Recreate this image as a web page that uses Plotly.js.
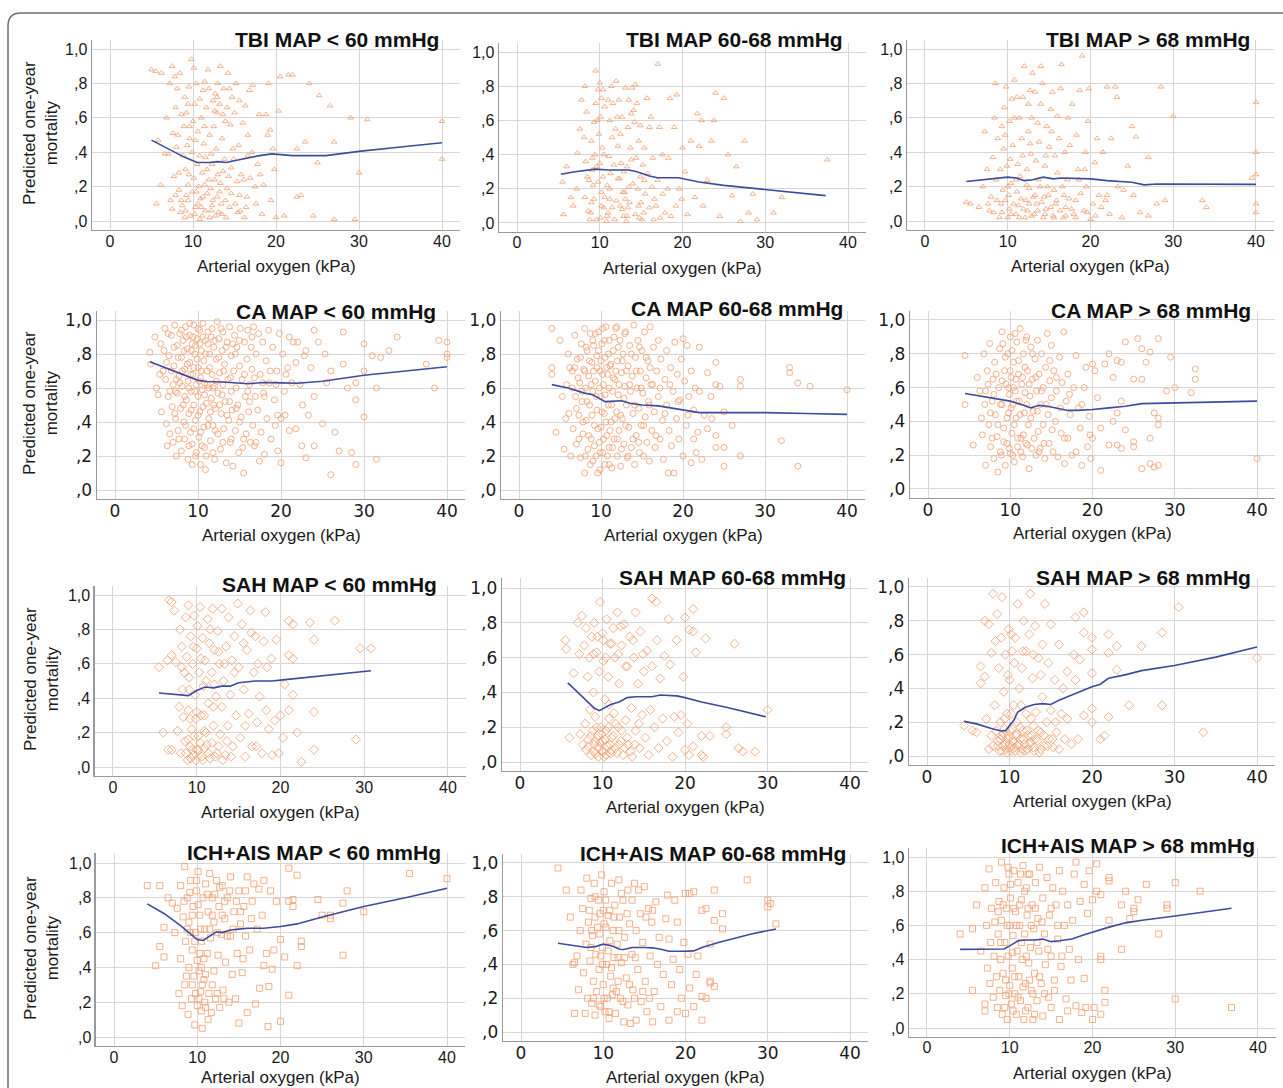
<!DOCTYPE html>
<html>
<head>
<meta charset="utf-8">
<script src="https://cdn.plot.ly/plotly-3.0.1.min.js"></script>
<style>html,body{margin:0;padding:0;background:#fff;}#chart{width:1283px;height:1088px;}</style>
</head>
<body>
<div id="chart"></div>
<script>
// ---------- DATA ----------
const xTickVals = [0, 10, 20, 30, 40];
const xTickText = ["0", "10", "20", "30", "40"];
const yTickVals = [0, 0.2, 0.4, 0.6, 0.8, 1.0];
const yTickText = [",0", ",2", ",4", ",6", ",8", "1,0"];
const panelTitles = [
  "TBI MAP &lt; 60 mmHg", "TBI MAP 60-68 mmHg", "TBI MAP &gt; 68 mmHg",
  "CA MAP &lt; 60 mmHg", "CA MAP 60-68 mmHg", "CA MAP &gt; 68 mmHg",
  "SAH MAP &lt; 60 mmHg", "SAH MAP 60-68 mmHg", "SAH MAP &gt; 68 mmHg",
  "ICH+AIS MAP &lt; 60 mmHg", "ICH+AIS MAP 60-68 mmHg", "ICH+AIS MAP &gt; 68 mmHg"
];
const xAxisTitle = "Arterial oxygen (kPa)";
const yAxisTitle = "Predicted one-year<br>mortality";

// Scatter points [oxygen kPa, predicted mortality]
const tbiLowPts = [[5,0.88],[5.5,0.87],[6.2,0.86],[5.8,0.47],[5.6,0.1],[6.1,0.21],[6.6,0.39],[7,0.39],[6.8,0.6],[7.2,0.8],[7.5,0.9],[7.8,0.84],[8.1,0.77],[8.4,0.86],[7.9,0.66],[8.2,0.5],[7.6,0.51],[8,0.43],[7.7,0.26],[8.3,0.18],[8.6,0.12],[7.5,0.07],[8.5,0.05],[9,0.02],[9.2,0.15],[9.4,0.21],[9.1,0.3],[8.8,0.38],[9.3,0.44],[9.6,0.55],[9.2,0.63],[9,0.72],[9.5,0.78],[9.8,0.94],[10.1,0.89],[10.4,0.8],[10.2,0.68],[10,0.58],[10.3,0.47],[9.9,0.4],[10.5,0.33],[10.1,0.25],[10.4,0.17],[10.6,0.1],[10.2,0.04],[10.8,0.01],[11,0.08],[11.2,0.14],[11.4,0.21],[11.1,0.28],[11.5,0.37],[11.3,0.45],[11,0.6],[11.6,0.66],[11.2,0.76],[11.4,0.81],[11.8,0.88],[12,0.02],[12.2,0.06],[12.4,0.12],[12.1,0.19],[12.6,0.24],[12.3,0.33],[12.8,0.42],[12.5,0.55],[12.9,0.63],[12.4,0.7],[12.7,0.74],[13,0.8],[13.3,0.9],[13.1,0.05],[13.4,0.1],[13.2,0.17],[13.6,0.29],[13.8,0.36],[13.5,0.48],[13.9,0.58],[13.7,0.77],[14.2,0.86],[14,0.02],[14.4,0.08],[14.6,0.16],[14.3,0.26],[14.8,0.42],[14.5,0.56],[15,0.63],[14.7,0.72],[15.2,0.8],[15.4,0.05],[15.6,0.15],[15.3,0.23],[15.8,0.27],[15.5,0.44],[16,0.57],[16.2,0.02],[16.4,0.08],[16.1,0.24],[16.6,0.38],[16.3,0.67],[16.8,0.76],[17.2,0.79],[17.5,0.2],[17.8,0.33],[18,0.62],[18.3,0.04],[18.5,0.21],[18.8,0.62],[19,0.5],[19.3,0.53],[19.1,0.8],[19.6,0.42],[20,0.02],[20.3,0.64],[20.5,0.84],[21,0.03],[21.5,0.85],[22,0.85],[22.5,0.14],[22.5,0.42],[23,0.15],[23.5,0.46],[24,0.8],[24.5,0.03],[25,0.34],[25.2,0.73],[26.5,0.67],[27,0.46],[27,0.01],[29.5,0.01],[29,0.6],[30,0.28],[31,0.59],[40,0.58],[40,0.36]];
const tbiLowCore = [[8.7,0.09],[9.1,0.06],[9.4,0.12],[9.7,0.03],[9.9,0.17],[10.3,0.08],[10.7,0.2],[10.9,0.13],[11.1,0.03],[11.5,0.06],[11.7,0.16],[11.9,0.24],[12.3,0.09],[12.7,0.03],[12.9,0.14],[13.3,0.22],[13.5,0.04],[13.9,0.12],[14.1,0.19],[14.6,0.31],[15.1,0.1],[15.7,0.06],[16.5,0.14],[9.5,0.27],[10.8,0.38],[11.7,0.3],[12.2,0.39],[13,0.27],[14.9,0.36],[16.9,0.25],[9.6,0.48],[10.6,0.52],[11.4,0.55],[12,0.5],[12.6,0.64],[13.2,0.68],[13.6,0.62],[14.1,0.66],[14.4,0.77],[11.9,0.77],[10.8,0.71],[9.4,0.68],[8.6,0.62],[8.9,0.55],[12.9,0.72],[15.6,0.7],[16.6,0.5],[17.6,0.1],[18.1,0.27],[19.4,0.12],[8.3,0.28],[7.9,0.15],[7.3,0.12],[17.1,0.4],[19.8,0.3]];
const tbiMidPts = [[5.5,0.24],[5.6,0.05],[6,0.33],[6.5,0.15],[6.8,0.1],[7.2,0.2],[7.3,0.41],[7.6,0.55],[7.8,0.72],[8.2,0.8],[8.4,0.65],[8.1,0.5],[8.3,0.36],[8.5,0.27],[8.2,0.15],[8.6,0.07],[8.8,0.02],[9,0.12],[9.2,0.22],[9.1,0.31],[9.4,0.4],[9,0.48],[9.3,0.59],[9.5,0.7],[9.5,0.89],[9.8,0.78],[10,0.82],[10.2,0.73],[10.1,0.62],[9.9,0.52],[10.3,0.44],[10,0.35],[10.4,0.27],[10.2,0.18],[10.5,0.09],[10.1,0.03],[10.8,0.01],[11,0.06],[11.2,0.14],[10.9,0.22],[11.3,0.29],[11.1,0.39],[11.5,0.5],[11.2,0.6],[11.6,0.7],[11.4,0.8],[12,0.83],[12.3,0.72],[12.1,0.62],[12.5,0.52],[12.2,0.45],[12.6,0.35],[12.4,0.26],[12.8,0.18],[12.5,0.1],[12.9,0.04],[13.2,0.01],[13.4,0.09],[13.1,0.14],[13.5,0.21],[13.3,0.33],[13.7,0.44],[13.4,0.56],[13.8,0.64],[13.5,0.72],[13.9,0.79],[14.3,0.81],[14.5,0.7],[14.2,0.59],[14.7,0.48],[14.4,0.38],[14.9,0.27],[14.6,0.2],[15,0.12],[14.8,0.03],[15.3,0.06],[15.5,0.17],[15.8,0.29],[15.4,0.44],[16,0.56],[15.7,0.73],[16.2,0.62],[16.5,0.02],[16.8,0.1],[16.3,0.21],[17,0.25],[17.2,0.56],[17,0.93],[17.6,0.4],[17.9,0.06],[18.2,0.2],[18.5,0.73],[18.3,0.38],[19,0.56],[19.3,0.75],[19.6,0.2],[19.2,0.1],[20,0.44],[20.3,0.3],[20.6,0.05],[21,0.48],[21.5,0.15],[21.8,0.64],[22,0.45],[22.3,0.6],[22.5,0.1],[23,0.25],[23.5,0.48],[23.8,0.6],[24,0.76],[24.5,0.04],[25,0.73],[25.5,0.4],[26,0.16],[26.5,0.33],[27,0.01],[27.5,0.48],[28,0.06],[28.5,0.17],[29,0.02],[31,0.06],[32,0.15],[37.5,0.37]];
const tbiMidCore = [[8.9,0.06],[9.3,0.14],[9.6,0.02],[9.8,0.24],[10.2,0.1],[10.6,0.15],[10.9,0.04],[11.2,0.2],[11.5,0.09],[11.8,0.02],[12,0.13],[12.2,0.26],[12.7,0.08],[13,0.18],[13.3,0.04],[13.6,0.12],[14,0.23],[14.3,0.05],[14.7,0.1],[15.1,0.02],[15.4,0.25],[16,0.09],[16.6,0.14],[17.3,0.03],[9.6,0.33],[10.5,0.4],[11.7,0.34],[12.9,0.3],[13.8,0.37],[15.2,0.34],[9.7,0.6],[10.6,0.68],[11.9,0.55],[12.7,0.62],[13.1,0.79],[14.1,0.66],[10.4,0.78],[11,0.72],[9.1,0.38],[8.7,0.25],[18.6,0.04],[17.6,0.17],[19.9,0.14],[14.9,0.57],[16.4,0.38]];
const tbiHighPts = [[5,0.11],[5.5,0.1],[6.5,0.08],[7,0.2],[7.2,0.52],[7.5,0.3],[7.8,0.06],[8,0.14],[8.2,0.37],[8.4,0.6],[8.5,0.8],[8.8,0.48],[8.6,0.24],[9,0.02],[9.2,0.1],[9.4,0.18],[9.1,0.3],[9.5,0.42],[9.3,0.55],[9.6,0.66],[9.8,0.78],[10,0.02],[10.2,0.07],[10.1,0.15],[10.4,0.22],[10.3,0.36],[10.6,0.44],[10.2,0.58],[10.5,0.71],[10.8,0.82],[11,0.04],[11.3,0.09],[11.1,0.17],[11.5,0.26],[11.2,0.33],[11.7,0.48],[11.4,0.6],[11.8,0.72],[12,0.9],[12.1,0.02],[12.4,0.06],[12.2,0.12],[12.6,0.19],[12.3,0.3],[12.8,0.39],[12.5,0.52],[12.9,0.6],[12.7,0.76],[13,0.86],[13.2,0.04],[13.5,0.1],[13.3,0.15],[13.7,0.24],[13.4,0.35],[13.8,0.46],[13.6,0.57],[14,0.68],[14.2,0.8],[14,0.9],[14.3,0.02],[14.6,0.07],[14.4,0.14],[14.8,0.2],[14.5,0.32],[15,0.43],[14.7,0.55],[15.2,0.65],[15.4,0.75],[15.5,0.03],[15.8,0.1],[15.6,0.18],[16,0.28],[15.7,0.38],[16.2,0.48],[16,0.61],[16.4,0.77],[16.5,0.91],[16.7,0.02],[17,0.08],[16.8,0.15],[17.2,0.24],[17.5,0.44],[17.3,0.6],[17.8,0.68],[18,0.04],[18.2,0.12],[18.5,0.3],[18.3,0.5],[18.7,0.76],[19,0.96],[19.2,0.06],[19.5,0.2],[19.4,0.4],[19.7,0.58],[19.8,0.77],[20,0.01],[20.3,0.1],[20.5,0.34],[20.8,0.48],[21,0.15],[21.5,0.4],[21.8,0.12],[22,0.78],[22.3,0.04],[22.5,0.48],[23,0.78],[23.2,0.72],[23.3,0.2],[23.8,0.02],[24,0.18],[24.5,0.32],[25,0.55],[25.5,0.49],[25.2,0.15],[26,0.05],[27,0.37],[27,0.03],[28,0.1],[28.5,0.78],[29,0.12],[30,0.61],[33.5,0.12],[34,0.08],[39.5,0.25],[40,0.69],[40,0.4],[40,0.27],[40,0.1],[40,0.05]];
const tbiHighCore = [[9.3,0.05],[9.7,0.12],[10,0.2],[10.4,0.04],[10.7,0.1],[11,0.24],[11.4,0.02],[11.6,0.13],[11.9,0.07],[12.3,0.21],[12.6,0.1],[12.9,0.03],[13.1,0.14],[13.6,0.06],[13.9,0.2],[14.1,0.11],[14.5,0.04],[14.9,0.15],[15.2,0.08],[15.6,0.02],[15.9,0.12],[16.3,0.06],[16.6,0.2],[17,0.03],[17.4,0.13],[17.7,0.07],[18.2,0.02],[18.8,0.16],[19.6,0.05],[20.6,0.03],[21.3,0.08],[22,0.15],[9.9,0.32],[11.8,0.38],[12.7,0.45],[14.6,0.38],[15.3,0.52],[16.9,0.4],[10.8,0.6],[12.5,0.68],[13.3,0.75],[11.1,0.72],[9.7,0.5],[8.7,0.12],[8.3,0.05],[7.6,0.1],[18.6,0.24],[19.3,0.3]];
const caLowPts = [[4.2,0.81],[4.3,0.74],[4.8,0.9],[5,0.6],[5.2,0.56],[5.5,0.86],[5.6,0.46],[5.8,0.7],[6,0.95],[6.1,0.65],[6.2,0.39],[6.3,0.26],[6.4,0.55],[6.5,0.79],[6.6,0.33],[6.8,0.91],[6.9,0.49],[7,0.62],[7,0.28],[7.1,0.73],[7.2,0.97],[7.3,0.42],[7.4,0.2],[7.5,0.85],[7.5,0.57],[7.6,0.35],[7.7,0.67],[7.8,0.92],[7.9,0.48],[8,0.78],[8,0.23],[8.1,0.61],[8.2,0.88],[8.3,0.4],[8.4,0.71],[8.4,0.3],[8.5,0.96],[8.6,0.53],[8.7,0.83],[8.8,0.64],[8.8,0.18],[8.9,0.45],[9,0.91],[9,0.75],[9.1,0.34],[9.2,0.58],[9.3,0.86],[9.3,0.27],[9.4,0.68],[9.5,0.97],[9.5,0.5],[9.6,0.8],[9.7,0.41],[9.8,0.62],[9.8,0.22],[9.9,0.89],[10,0.72],[10,0.55],[10.1,0.31],[10.2,0.94],[10.2,0.46],[10.3,0.66],[10.3,0.15],[10.4,0.82],[10.5,0.59],[10.5,0.26],[10.6,0.98],[10.7,0.37],[10.7,0.76],[10.8,0.63],[10.9,0.88],[11,0.51],[11,0.2],[11.1,0.7],[11.2,0.93],[11.3,0.42],[11.3,0.6],[11.4,0.8],[11.5,0.29],[11.6,0.54],[11.7,0.95],[11.7,0.68],[11.8,0.38],[11.9,0.84],[12,0.18],[12,0.61],[12.1,0.48],[12.2,0.77],[12.3,0.99],[12.4,0.33],[12.4,0.57],[12.5,0.89],[12.6,0.69],[12.7,0.24],[12.8,0.45],[12.9,0.82],[13,0.62],[13,0.93],[13.1,0.36],[13.2,0.74],[13.3,0.52],[13.4,0.16],[13.5,0.87],[13.6,0.65],[13.7,0.41],[13.8,0.96],[13.9,0.28],[14,0.58],[14,0.79],[14.1,0.47],[14.2,0.14],[14.3,0.7],[14.4,0.91],[14.5,0.35],[14.6,0.6],[14.7,0.84],[14.8,0.5],[14.9,0.22],[15,0.73],[15.1,0.95],[15.2,0.43],[15.3,0.65],[15.4,0.25],[15.5,0.1],[15.6,0.87],[15.7,0.55],[15.8,0.33],[15.9,0.77],[16,0.94],[16.1,0.46],[16.2,0.62],[16.3,0.28],[16.4,0.84],[16.5,0.71],[16.6,0.38],[16.7,0.96],[16.8,0.26],[16.9,0.55],[17,0.8],[17.2,0.47],[17.3,0.92],[17.4,0.17],[17.5,0.68],[17.6,0.34],[17.8,0.87],[17.9,0.57],[18,0.21],[18.2,0.76],[18.3,0.42],[18.5,0.94],[18.6,0.63],[18.8,0.3],[19,0.84],[19.2,0.53],[19.3,0.38],[19.5,0.7],[19.6,0.23],[19.8,0.92],[20,0.42],[20,0.16],[20.2,0.8],[20.4,0.58],[20.5,0.44],[20.8,0.72],[21,0.9],[21,0.35],[21.3,0.63],[21.5,0.87],[21.8,0.36],[22,0.87],[22.3,0.62],[22.5,0.26],[22.8,0.79],[23,0.19],[23,0.82],[23.3,0.44],[23.6,0.72],[24,0.94],[24,0.55],[24,0.26],[24.5,0.87],[25,0.39],[25.3,0.8],[25.5,0.63],[26,0.7],[26,0.09],[26.5,0.34],[27,0.23],[27.5,0.93],[27.5,0.74],[28,0.6],[28.5,0.22],[29,0.63],[29,0.53],[29,0.15],[30,0.86],[30,0.7],[30,0.43],[31,0.79],[31.5,0.6],[31.5,0.18],[32,0.78],[33,0.82],[34,0.9],[37.5,0.74],[38.5,0.6],[39,0.88],[40,0.87],[40,0.8],[40,0.78]];
const caLowCore = [[6.8,0.7],[7.1,0.84],[7.3,0.58],[7.6,0.78],[7.8,0.63],[8,0.94],[8.1,0.7],[8.3,0.82],[8.4,0.55],[8.6,0.9],[8.7,0.74],[8.9,0.6],[9,0.98],[9.1,0.68],[9.2,0.82],[9.4,0.9],[9.5,0.72],[9.6,0.58],[9.7,0.85],[9.9,0.77],[10,0.95],[10.1,0.64],[10.2,0.86],[10.4,0.7],[10.6,0.9],[10.8,0.56],[10.9,0.8],[11.1,0.62],[11.2,0.86],[11.4,0.72],[11.6,0.9],[11.8,0.6],[12,0.88],[12.2,0.64],[12.5,0.78],[12.8,0.95],[13.1,0.7],[13.4,0.84],[13.9,0.66],[14.5,0.8],[15,0.88],[15.6,0.68],[16,0.58],[16.5,0.9],[7.2,0.45],[7.7,0.3],[8.2,0.5],[8.5,0.38],[8.9,0.26],[9.2,0.47],[9.5,0.36],[9.7,0.2],[10,0.44],[10.3,0.34],[10.6,0.49],[10.8,0.25],[11.2,0.38],[11.5,0.46],[11.8,0.22],[12.1,0.35],[12.6,0.5],[13,0.28],[13.5,0.44],[14,0.3],[14.6,0.48],[15,0.4],[15.5,0.3],[16.2,0.52],[17,0.28],[18,0.55],[18.7,0.7],[19.4,0.62],[6.4,0.92],[5.9,0.82],[6.2,0.75],[6.6,0.58],[5.4,0.68],[7.4,0.65],[9.3,0.15],[10.9,0.12],[11.9,0.5],[17.8,0.63],[16.8,0.66],[14.2,0.86],[13.8,0.52],[12.9,0.56],[19.6,0.44],[20.6,0.68],[21.8,0.75],[22.6,0.5]];
const caMidPts = [[4,0.95],[4,0.72],[4,0.68],[4.5,0.34],[5,0.88],[5.3,0.55],[5.5,0.24],[5.8,0.62],[6,0.8],[6.1,0.45],[6.3,0.2],[6.5,0.7],[6.6,0.36],[6.8,0.91],[6.9,0.55],[7,0.27],[7.1,0.77],[7.3,0.44],[7.4,0.63],[7.5,0.19],[7.6,0.86],[7.7,0.52],[7.8,0.33],[7.9,0.71],[8,0.1],[8,0.95],[8.1,0.6],[8.2,0.41],[8.3,0.82],[8.4,0.24],[8.5,0.67],[8.6,0.5],[8.7,0.92],[8.8,0.3],[8.9,0.75],[9,0.58],[9,0.17],[9.1,0.85],[9.2,0.38],[9.3,0.64],[9.4,0.2],[9.5,0.79],[9.5,0.47],[9.6,0.1],[9.7,0.93],[9.8,0.28],[9.9,0.7],[10,0.55],[10,0.37],[10.1,0.86],[10.2,0.22],[10.3,0.62],[10.4,0.45],[10.5,0.78],[10.5,0.15],[10.6,0.96],[10.7,0.32],[10.8,0.68],[10.9,0.5],[11,0.25],[11,0.88],[11.1,0.73],[11.2,0.4],[11.3,0.13],[11.4,0.58],[11.5,0.82],[11.6,0.3],[11.7,0.65],[11.8,0.95],[11.9,0.46],[12,0.2],[12,0.76],[12.1,0.56],[12.2,0.35],[12.3,0.88],[12.4,0.14],[12.5,0.69],[12.6,0.42],[12.7,0.8],[12.8,0.27],[12.9,0.61],[13,0.93],[13.1,0.5],[13.2,0.19],[13.3,0.73],[13.4,0.37],[13.5,0.85],[13.6,0.58],[13.7,0.25],[13.8,0.67],[13.9,0.45],[14,0.97],[14.1,0.15],[14.2,0.78],[14.3,0.32],[14.4,0.6],[14.5,0.88],[14.6,0.48],[14.7,0.22],[14.8,0.7],[14.9,0.38],[15,0.82],[15.1,0.57],[15.2,0.2],[15.3,0.93],[15.4,0.43],[15.5,0.66],[15.6,0.28],[15.7,0.76],[15.8,0.52],[15.9,0.17],[16,0.96],[16.1,0.62],[16.2,0.35],[16.4,0.84],[16.5,0.46],[16.6,0.25],[16.8,0.7],[17,0.55],[17,0.88],[17.2,0.3],[17.3,0.77],[17.5,0.41],[17.6,0.18],[17.8,0.65],[18,0.82],[18,0.5],[18.2,0.1],[18.3,0.35],[18.5,0.72],[18.6,0.26],[18.8,0.58],[18.9,0.1],[19,0.87],[19.2,0.42],[19.3,0.68],[19.5,0.3],[19.6,0.53],[19.8,0.77],[20,0.89],[20,0.2],[20.2,0.64],[20.4,0.38],[20.5,0.85],[20.7,0.55],[21,0.16],[21,0.7],[21.3,0.47],[21.5,0.6],[21.6,0.22],[21.8,0.34],[22,0.84],[22,0.58],[22.3,0.18],[22.6,0.44],[23,0.69],[23,0.36],[23.5,0.42],[24,0.75],[24,0.62],[24,0.32],[24,0.25],[24.5,0.61],[25,0.46],[25,0.25],[25,0.14],[26,0.38],[27,0.65],[27,0.61],[27,0.2],[32,0.29],[33,0.72],[33,0.69],[34,0.63],[34,0.14],[35.5,0.61],[40,0.59]];
const caMidCore = [[6.5,0.6],[6.8,0.72],[7,0.48],[7.2,0.66],[7.5,0.78],[7.7,0.58],[7.8,0.4],[8,0.7],[8.2,0.84],[8.3,0.52],[8.5,0.32],[8.6,0.76],[8.8,0.62],[8.9,0.44],[9,0.88],[9.1,0.7],[9.2,0.26],[9.4,0.55],[9.5,0.72],[9.6,0.36],[9.7,0.82],[9.8,0.6],[9.9,0.22],[10,0.76],[10.1,0.46],[10.2,0.68],[10.3,0.3],[10.4,0.88],[10.5,0.56],[10.6,0.4],[10.7,0.72],[10.8,0.2],[10.9,0.8],[11,0.6],[11.1,0.35],[11.2,0.74],[11.3,0.5],[11.4,0.25],[11.5,0.66],[11.6,0.9],[11.7,0.42],[11.8,0.7],[12,0.3],[12.1,0.84],[12.2,0.62],[12.4,0.44],[12.5,0.24],[12.6,0.76],[12.8,0.54],[13,0.38],[13.1,0.7],[13.3,0.2],[13.5,0.62],[13.7,0.8],[13.9,0.3],[14.1,0.5],[14.3,0.7],[14.6,0.28],[14.9,0.6],[15.2,0.38],[15.5,0.78],[15.9,0.5],[16.3,0.62],[16.7,0.32],[17.2,0.6],[17.8,0.45],[7.3,0.3],[8.1,0.2],[6.2,0.72],[5.7,0.42],[9.3,0.92],[10.2,0.95],[11.9,0.96],[12.9,0.92],[14.7,0.84],[16,0.72],[18.4,0.62],[19.4,0.52],[20.6,0.44],[21.3,0.3],[23.4,0.55],[8.7,0.15],[9.9,0.12],[11,0.15]];
const caHighPts = [[4.5,0.79],[4.5,0.5],[5.5,0.26],[6,0.66],[6.5,0.42],[6.6,0.32],[6.8,0.8],[7,0.58],[7,0.14],[7.2,0.7],[7.4,0.38],[7.5,0.86],[7.6,0.25],[7.8,0.52],[7.9,0.65],[8,0.18],[8.1,0.75],[8.2,0.44],[8.4,0.31],[8.5,0.1],[8.6,0.6],[8.7,0.83],[8.8,0.22],[9,0.93],[9,0.5],[9.2,0.36],[9.3,0.7],[9.4,0.14],[9.5,0.62],[9.6,0.27],[9.7,0.8],[9.8,0.45],[9.9,0.56],[10,0.21],[10,0.9],[10.1,0.66],[10.2,0.33],[10.3,0.5],[10.4,0.75],[10.5,0.16],[10.6,0.58],[10.7,0.42],[10.8,0.87],[10.9,0.25],[11,0.68],[11.1,0.52],[11.2,0.95],[11.3,0.3],[11.4,0.62],[11.5,0.19],[11.6,0.8],[11.7,0.45],[11.8,0.57],[11.9,0.27],[12,0.9],[12.1,0.7],[12.2,0.38],[12.3,0.12],[12.4,0.55],[12.5,0.84],[12.6,0.24],[12.7,0.65],[12.8,0.46],[13,0.77],[13.1,0.2],[13.2,0.58],[13.3,0.88],[13.4,0.34],[13.5,0.68],[13.6,0.24],[13.7,0.5],[13.8,0.8],[14,0.38],[14,0.6],[14.2,0.18],[14.3,0.72],[14.5,0.92],[14.6,0.44],[14.7,0.27],[14.8,0.64],[15,0.54],[15,0.85],[15.2,0.22],[15.3,0.7],[15.5,0.4],[15.6,0.58],[15.8,0.19],[16,0.78],[16.2,0.33],[16.3,0.63],[16.5,0.93],[16.6,0.15],[16.8,0.52],[17,0.3],[17,0.68],[17.3,0.44],[17.5,0.2],[17.7,0.6],[18,0.79],[18,0.22],[18.3,0.48],[18.5,0.36],[18.7,0.14],[19,0.6],[19.2,0.72],[19.4,0.25],[19.6,0.43],[19.8,0.18],[20,0.74],[20,0.3],[20.3,0.7],[20.6,0.54],[21,0.36],[21,0.11],[21.5,0.74],[22,0.8],[22,0.26],[22.5,0.66],[22.5,0.4],[23,0.76],[23,0.45],[23,0.26],[23.5,0.52],[23.5,0.24],[23.5,0.75],[24,0.87],[24,0.35],[25,0.65],[25,0.28],[25,0.25],[25.5,0.89],[26,0.83],[26,0.65],[26,0.12],[26.5,0.75],[27,0.81],[27,0.3],[27,0.15],[27.5,0.45],[27.5,0.13],[28,0.89],[28,0.42],[28,0.38],[28,0.14],[29,0.58],[29.5,0.78],[30,0.6],[32,0.57],[32.5,0.71],[32.5,0.65],[40,0.18]];
const caHighCore = [[7.3,0.62],[7.6,0.45],[8,0.56],[8.3,0.68],[8.5,0.38],[8.8,0.5],[9,0.64],[9.2,0.28],[9.4,0.78],[9.6,0.42],[9.8,0.6],[9.9,0.24],[10,0.7],[10.1,0.48],[10.2,0.82],[10.3,0.2],[10.4,0.6],[10.5,0.38],[10.7,0.65],[10.8,0.52],[10.9,0.3],[11,0.76],[11.2,0.44],[11.3,0.22],[11.5,0.66],[11.6,0.32],[11.8,0.72],[12,0.5],[12.1,0.26],[12.3,0.62],[12.5,0.42],[12.7,0.8],[12.9,0.3],[13.1,0.66],[13.3,0.46],[13.5,0.22],[13.8,0.58],[14.1,0.27],[14.4,0.5],[14.8,0.76],[15.1,0.35],[15.6,0.66],[16.1,0.48],[16.6,0.3],[17.2,0.56],[7.8,0.3],[8.9,0.2],[9.1,0.86],[10.6,0.92],[11.9,0.88],[6.9,0.5],[6.3,0.58],[18.7,0.5],[19.7,0.32]];
const sahLowPts = [[5.5,0.58],[6,0.2],[6.6,0.1],[6.5,0.62],[6.7,0.97],[7,0.96],[7,0.1],[7,0.65],[7.3,0.91],[7.5,0.61],[7.7,0.21],[7.9,0.35],[8,0.8],[8.1,0.08],[8.2,0.7],[8.3,0.45],[8.4,0.29],[8.5,0.55],[8.6,0.15],[8.7,0.87],[8.8,0.64],[8.9,0.04],[9,0.33],[9,0.94],[9.1,0.52],[9.2,0.12],[9.3,0.76],[9.4,0.22],[9.5,0.6],[9.6,0.07],[9.7,0.88],[9.8,0.42],[9.9,0.28],[10,0.69],[10,0.1],[10.1,0.82],[10.2,0.18],[10.3,0.55],[10.4,0.93],[10.5,0.3],[10.6,0.06],[10.7,0.75],[10.8,0.47],[10.9,0.21],[11,0.62],[11.2,0.13],[11.3,0.86],[11.4,0.37],[11.5,0.72],[11.6,0.05],[11.8,0.55],[11.9,0.92],[12,0.24],[12.1,0.68],[12.3,0.41],[12.4,0.08],[12.5,0.79],[12.7,0.6],[12.8,0.19],[13,0.35],[13,0.92],[13.2,0.5],[13.4,0.07],[13.5,0.7],[13.7,0.24],[13.8,0.87],[14,0.42],[14.2,0.62],[14.3,0.12],[14.5,0.76],[14.7,0.3],[14.9,0.95],[15,0.58],[15.2,0.17],[15.4,0.83],[15.6,0.45],[15.8,0.06],[16,0.68],[16.2,0.31],[16.4,0.91],[16.6,0.12],[16.8,0.55],[17,0.76],[17.2,0.26],[17.5,0.41],[17.8,0.08],[18,0.73],[18.2,0.9],[18.4,0.58],[18.6,0.22],[18.9,0.63],[19,0.07],[19.3,0.27],[19.5,0.74],[19.8,0.08],[20,0.3],[20.3,0.17],[20.5,0.48],[21,0.33],[21,0.65],[21,0.85],[21.5,0.42],[21.5,0.63],[21.5,0.83],[22,0.2],[22.5,0.03],[23.5,0.84],[24,0.74],[24,0.32],[24,0.1],[26.5,0.85],[29,0.16],[29.5,0.69],[30.8,0.69]];
const sahLowCore = [[8.7,0.08],[9,0.16],[9.3,0.05],[9.5,0.1],[9.7,0.18],[9.9,0.04],[10.2,0.1],[10.4,0.14],[10.7,0.04],[10.9,0.11],[11.1,0.2],[11.4,0.08],[11.8,0.14],[12.2,0.06],[12.6,0.12],[13.1,0.04],[13.6,0.15],[14.1,0.06],[9.2,0.28],[10,0.32],[10.9,0.3],[12,0.35],[9.6,0.7],[10.5,0.63],[11.6,0.8],[12.6,0.67],[13.3,0.6],[14.5,0.55],[15.6,0.72],[16.5,0.78],[17.3,0.6],[11.1,0.5],[12.1,0.48],[9.1,0.45],[8.2,0.58],[15.8,0.24],[17.1,0.12],[18.3,0.33]];
const sahMidPts = [[5.5,0.7],[5.6,0.65],[6,0.14],[6.5,0.51],[7,0.8],[7.2,0.62],[7.3,0.16],[7.5,0.84],[7.6,0.1],[7.8,0.67],[7.9,0.22],[8,0.77],[8,0.07],[8.2,0.49],[8.3,0.13],[8.4,0.6],[8.5,0.3],[8.6,0.04],[8.7,0.72],[8.8,0.18],[8.9,0.4],[9,0.1],[9,0.8],[9.1,0.26],[9.2,0.05],[9.3,0.63],[9.4,0.15],[9.5,0.08],[9.6,0.52],[9.7,0.92],[9.8,0.2],[9.9,0.06],[10,0.74],[10,0.12],[10.1,0.58],[10.2,0.03],[10.3,0.36],[10.4,0.18],[10.5,0.82],[10.6,0.09],[10.7,0.49],[10.8,0.25],[10.9,0.68],[11,0.05],[11.1,0.14],[11.3,0.77],[11.4,0.28],[11.5,0.6],[11.6,0.08],[11.8,0.86],[11.9,0.2],[12,0.45],[12.2,0.12],[12.3,0.67],[12.5,0.04],[12.6,0.79],[12.8,0.24],[13,0.55],[13.1,0.1],[13.3,0.72],[13.5,0.31],[13.6,0.03],[13.8,0.6],[14,0.18],[14,0.86],[14.3,0.45],[14.5,0.08],[14.6,0.75],[14.8,0.27],[15,0.52],[15.2,0.14],[15.4,0.64],[15.6,0.04],[15.8,0.3],[16,0.94],[16,0.55],[16.3,0.2],[16.5,0.92],[16.6,0.7],[16.8,0.08],[17,0.48],[17.3,0.25],[17.5,0.61],[17.8,0.12],[18,0.82],[18.2,0.56],[18.5,0.03],[18.7,0.26],[19,0.7],[19.2,0.17],[19.5,0.27],[19.8,0.49],[20,0.83],[20,0.07],[20.3,0.22],[20.5,0.76],[20.5,0.04],[21,0.88],[21,0.75],[21,0.09],[21.3,0.63],[22,0.04],[22,0.15],[22.2,0.03],[22.5,0.71],[23,0.15],[25,0.2],[25,0.16],[26,0.68],[26.5,0.08],[27,0.06],[28.5,0.06],[30,0.3]];
const sahMidCore = [[8.3,0.09],[8.6,0.15],[8.9,0.06],[9.1,0.12],[9.3,0.2],[9.5,0.03],[9.7,0.11],[9.9,0.16],[10.1,0.06],[10.3,0.13],[10.5,0.04],[10.7,0.2],[10.9,0.1],[11.1,0.07],[11.3,0.15],[11.6,0.22],[11.8,0.05],[12,0.1],[12.3,0.18],[12.7,0.08],[13,0.14],[13.4,0.06],[13.9,0.1],[14.4,0.22],[10.1,0.7],[10.4,0.6],[11.1,0.68],[11.9,0.62],[12.8,0.55],[13.7,0.7],[14.9,0.62],[9.4,0.72],[8.9,0.62],[12.2,0.78],[10.8,0.33]];
const sahHighPts = [[4.5,0.18],[5.5,0.15],[6,0.14],[6.5,0.43],[6.5,0.53],[7,0.47],[7,0.8],[7.2,0.22],[7.5,0.78],[7.5,0.04],[7.8,0.61],[7.8,0.12],[8,0.96],[8,0.06],[8.2,0.3],[8.3,0.68],[8.4,0.15],[8.5,0.84],[8.6,0.09],[8.7,0.52],[8.8,0.03],[8.9,0.2],[9,0.7],[9,0.12],[9.1,0.94],[9.2,0.06],[9.3,0.38],[9.4,0.16],[9.5,0.6],[9.6,0.04],[9.7,0.25],[9.8,0.1],[9.9,0.75],[10,0.07],[10,0.45],[10.1,0.15],[10.2,0.03],[10.3,0.62],[10.4,0.09],[10.5,0.3],[10.6,0.05],[10.7,0.7],[10.8,0.12],[10.9,0.2],[11,0.9],[11,0.06],[11.2,0.4],[11.3,0.1],[11.4,0.02],[11.5,0.52],[11.6,0.15],[11.7,0.8],[11.8,0.07],[12,0.25],[12,0.62],[12.2,0.04],[12.3,0.12],[12.4,0.72],[12.5,0.96],[12.6,0.08],[12.8,0.46],[12.9,0.18],[13,0.03],[13.1,0.77],[13.2,0.26],[13.4,0.09],[13.5,0.58],[13.6,0.02],[13.8,0.14],[14,0.66],[14,0.35],[14.2,0.06],[14.3,0.9],[14.5,0.2],[14.7,0.55],[14.8,0.1],[15,0.78],[15,0.27],[15.3,0.05],[15.5,0.45],[15.7,0.14],[16,0.66],[16,0.04],[16.3,0.25],[16.5,0.4],[16.7,0.1],[17,0.5],[17,0.22],[17.5,0.07],[17.8,0.6],[18,0.82],[18,0.45],[18.3,0.1],[18.5,0.57],[19,0.85],[19,0.73],[19,0.24],[20,0.7],[20,0.63],[20,0.49],[20,0.28],[20,0.2],[21,0.1],[21.5,0.12],[22,0.61],[22,0.72],[22,0.23],[23,0.65],[23,0.51],[24.5,0.3],[26,0.65],[28.5,0.73],[28.5,0.3],[30.5,0.88],[33.5,0.14],[40,0.58]];
const sahHighCore = [[8.6,0.06],[8.9,0.1],[9.1,0.03],[9.3,0.13],[9.5,0.07],[9.7,0.02],[9.9,0.12],[10.1,0.05],[10.3,0.16],[10.5,0.08],[10.7,0.03],[10.9,0.13],[11.1,0.07],[11.3,0.17],[11.5,0.04],[11.7,0.1],[11.9,0.03],[12.1,0.15],[12.4,0.07],[12.7,0.12],[12.9,0.05],[13.2,0.1],[13.5,0.15],[13.8,0.04],[14.2,0.12],[14.6,0.06],[15.2,0.1],[9.4,0.22],[10.2,0.25],[11.4,0.3],[12.6,0.22],[9.8,0.48],[10.6,0.55],[11.6,0.62],[12.9,0.6],[10.2,0.72],[13.8,0.48],[15.6,0.2]];
const ichLowPts = [[4,0.87],[5,0.41],[5.5,0.52],[5.5,0.87],[6,0.46],[6,0.63],[6.5,0.8],[7,0.77],[7.3,0.6],[7.6,0.74],[7.8,0.25],[8,0.87],[8,0.45],[8.2,0.18],[8.3,0.69],[8.5,0.98],[8.5,0.3],[8.6,0.55],[8.8,0.8],[8.9,0.13],[9,0.4],[9,0.66],[9.2,0.9],[9.3,0.22],[9.4,0.5],[9.5,0.75],[9.6,0.35],[9.7,0.07],[9.8,0.6],[9.9,0.84],[10,0.44],[10,0.18],[10.1,0.95],[10.2,0.38],[10.3,0.7],[10.4,0.26],[10.5,0.55],[10.6,0.05],[10.7,0.8],[10.8,0.33],[10.9,0.62],[11,0.17],[11,0.88],[11.2,0.48],[11.3,0.72],[11.4,0.25],[11.5,0.94],[11.6,0.57],[11.7,0.14],[11.8,0.8],[12,0.38],[12,0.66],[12.2,0.22],[12.3,0.9],[12.5,0.47],[12.6,0.75],[12.7,0.17],[12.9,0.59],[13,0.87],[13.1,0.27],[13.3,0.68],[13.4,0.43],[13.6,0.8],[13.8,0.2],[14,0.58],[14,0.92],[14.2,0.36],[14.4,0.72],[14.6,0.22],[14.8,0.48],[15,0.84],[15,0.08],[15.2,0.65],[15.4,0.37],[15.6,0.75],[15.8,0.58],[16,0.92],[16,0.14],[16.3,0.5],[16.5,0.68],[16.8,0.88],[17,0.19],[17.2,0.62],[17.5,0.28],[17.8,0.7],[18,0.9],[18,0.41],[18.3,0.48],[18.5,0.06],[18.6,0.29],[18.8,0.84],[19,0.39],[19.2,0.5],[19.5,0.78],[20,0.56],[20,0.09],[20.5,0.46],[21,0.24],[21,0.78],[21,0.97],[21.5,0.79],[21.5,0.75],[22,0.93],[22,0.41],[22.5,0.55],[22.5,0.52],[24.5,0.79],[25,0.7],[26,0.68],[26,0.7],[27.5,0.47],[27.5,0.77],[28,0.84],[30,0.72],[35.5,0.94],[40,0.91]];
const ichLowCore = [[8.4,0.78],[8.8,0.62],[9.1,0.83],[9.4,0.7],[9.7,0.55],[9.9,0.9],[10.1,0.76],[10.3,0.48],[10.5,0.4],[10.6,0.3],[10.8,0.45],[11,0.36],[11.2,0.82],[11.5,0.62],[11.8,0.7],[12.1,0.82],[12.4,0.6],[12.7,0.86],[13,0.7],[13.3,0.78],[13.6,0.58],[13.9,0.84],[14.3,0.62],[14.7,0.78],[15.2,0.72],[15.8,0.84],[10.2,0.22],[10.5,0.15],[10.9,0.2],[11.3,0.1],[11.8,0.3],[12.4,0.25],[13.2,0.22],[9.4,0.3],[9.8,0.25],[8.7,0.35],[10.4,0.62],[9.2,0.6],[15.5,0.45],[16.6,0.78],[17.4,0.85]];
const ichMidPts = [[4.5,0.97],[5.5,0.84],[6,0.68],[6.3,0.4],[6.5,0.41],[6.5,0.11],[6.8,0.45],[7,0.25],[7.2,0.6],[7.3,0.84],[7.5,0.73],[7.6,0.35],[7.8,0.11],[7.9,0.52],[8,0.91],[8.1,0.2],[8.2,0.65],[8.4,0.42],[8.5,0.79],[8.6,0.17],[8.7,0.57],[8.8,0.3],[8.9,0.88],[9,0.1],[9,0.68],[9.1,0.46],[9.2,0.24],[9.4,0.78],[9.5,0.37],[9.6,0.58],[9.7,0.15],[9.8,0.93],[9.9,0.5],[10,0.28],[10,0.72],[10.1,0.83],[10.2,0.12],[10.3,0.62],[10.4,0.4],[10.5,0.2],[10.6,0.69],[10.7,0.08],[10.8,0.54],[10.9,0.33],[11,0.88],[11.1,0.22],[11.2,0.6],[11.3,0.44],[11.4,0.75],[11.5,0.11],[11.7,0.52],[11.8,0.3],[11.9,0.9],[12,0.68],[12.1,0.2],[12.2,0.41],[12.4,0.78],[12.5,0.06],[12.6,0.56],[12.8,0.32],[13,0.84],[13,0.16],[13.2,0.64],[13.3,0.05],[13.5,0.46],[13.6,0.25],[13.8,0.88],[14,0.6],[14,0.07],[14.2,0.37],[14.5,0.7],[14.6,0.18],[14.8,0.53],[15,0.86],[15.1,0.3],[15.3,0.12],[15.5,0.73],[15.7,0.45],[15.9,0.65],[16,0.06],[16.2,0.24],[16.4,0.77],[16.6,0.4],[16.8,0.56],[17,0.15],[17.3,0.34],[17.6,0.67],[17.8,0.81],[18,0.07],[18,0.55],[18.3,0.28],[18.5,0.43],[18.7,0.78],[19,0.12],[19,0.65],[19.3,0.37],[19.5,0.2],[19.8,0.53],[20,0.11],[20,0.82],[20.3,0.46],[20.5,0.26],[20.5,0.82],[21,0.83],[21,0.15],[21.3,0.34],[21.5,0.45],[22,0.21],[22,0.07],[22,0.72],[22.5,0.73],[22.5,0.2],[23,0.52],[23,0.29],[23,0.3],[23.5,0.84],[23.5,0.66],[23.5,0.27],[24.5,0.61],[24.5,0.7],[27.5,0.9],[30,0.78],[30.3,0.76],[30,0.74],[31,0.64]];
const ichMidCore = [[8.3,0.72],[8.6,0.6],[9,0.8],[9.3,0.62],[9.6,0.7],[9.9,0.4],[10.1,0.64],[10.3,0.78],[10.6,0.48],[10.8,0.72],[11,0.38],[11.3,0.68],[11.6,0.24],[11.9,0.6],[12.2,0.82],[12.6,0.44],[12.9,0.7],[13.2,0.28],[13.5,0.78],[13.9,0.44],[14.3,0.84],[14.8,0.24],[15.2,0.68],[15.6,0.2],[16,0.72],[8.8,0.2],[9.5,0.16],[10.1,0.2],[10.7,0.12],[11.2,0.26],[12.4,0.18],[13.8,0.2],[8.5,0.5],[9.7,0.45],[11.8,0.44]];
const ichHighPts = [[4,0.55],[5.5,0.22],[5.5,0.58],[6,0.72],[6.5,0.45],[7,0.82],[7,0.1],[7,0.14],[7.2,0.6],[7.3,0.35],[7.5,0.93],[7.6,0.26],[7.7,0.5],[7.8,0.7],[8,0.18],[8.1,0.42],[8.2,0.62],[8.3,0.85],[8.4,0.3],[8.5,0.12],[8.6,0.55],[8.7,0.74],[8.8,0.22],[8.9,0.4],[9,0.97],[9,0.63],[9.1,0.08],[9.2,0.32],[9.3,0.82],[9.4,0.5],[9.5,0.19],[9.6,0.7],[9.7,0.05],[9.8,0.42],[9.9,0.9],[10,0.25],[10,0.6],[10.1,0.76],[10.2,0.14],[10.3,0.35],[10.4,0.54],[10.5,0.92],[10.6,0.2],[10.7,0.68],[10.8,0.08],[10.9,0.45],[11,0.85],[11.1,0.3],[11.2,0.6],[11.3,0.16],[11.4,0.75],[11.5,0.4],[11.6,0.95],[11.7,0.05],[11.8,0.55],[11.9,0.26],[12,0.82],[12.1,0.66],[12.2,0.12],[12.3,0.38],[12.4,0.9],[12.5,0.47],[12.6,0.22],[12.7,0.72],[12.8,0.05],[12.9,0.58],[13,0.32],[13.1,0.85],[13.3,0.16],[13.4,0.64],[13.5,0.45],[13.6,0.94],[13.8,0.26],[14,0.76],[14,0.07],[14.2,0.55],[14.3,0.37],[14.5,0.88],[14.7,0.18],[14.8,0.66],[15,0.42],[15,0.12],[15.2,0.82],[15.4,0.28],[15.6,0.72],[15.8,0.52],[16,0.92],[16,0.05],[16.2,0.36],[16.4,0.8],[16.6,0.6],[16.8,0.17],[17,0.72],[17,0.1],[17.2,0.46],[17.4,0.28],[17.6,0.63],[17.8,0.9],[18,0.13],[18,0.97],[18.3,0.4],[18.5,0.74],[18.7,0.09],[19,0.84],[19,0.29],[19.2,0.12],[19.4,0.67],[19.6,0.92],[20,0.05],[20,0.75],[20.2,0.12],[20.5,0.96],[20.5,0.8],[21,0.42],[21,0.4],[21,0.78],[21,0.08],[21.5,0.22],[21.5,0.15],[22,0.88],[22,0.86],[22,0.63],[23.5,0.46],[23.5,0.72],[24,0.8],[24.5,0.64],[25,0.7],[25,0.68],[25.5,0.75],[26.5,0.84],[28,0.55],[29,0.72],[29,0.7],[30,0.85],[30,0.17],[33,0.8],[36.8,0.12]];
const ichHighCore = [[8.6,0.68],[8.9,0.5],[9.2,0.72],[9.5,0.28],[9.7,0.6],[9.9,0.2],[10.1,0.84],[10.3,0.44],[10.5,0.7],[10.6,0.3],[10.8,0.6],[11,0.18],[11.2,0.72],[11.4,0.5],[11.6,0.24],[11.8,0.8],[12,0.42],[12.2,0.7],[12.4,0.28],[12.6,0.6],[12.8,0.2],[13.1,0.7],[13.3,0.5],[13.6,0.3],[13.9,0.62],[14.2,0.2],[14.6,0.46],[15,0.7],[15.4,0.22],[15.8,0.6],[16.3,0.42],[10.4,0.1],[9.4,0.12],[11.9,0.1],[13,0.08],[9.8,0.94],[11.3,0.9],[12.2,0.9]];

// Fitted (loess) curves [oxygen kPa, predicted mortality]
const tbiLowFit = [[5,0.47],[7,0.42],[9,0.37],[10.5,0.34],[12,0.34],[13,0.345],[14,0.34],[16,0.36],[18,0.38],[19.5,0.39],[22,0.38],[26,0.38],[30,0.405],[35,0.43],[40,0.455]];
const tbiMidFit = [[5.3,0.285],[7,0.3],[9.5,0.315],[11,0.31],[13.5,0.31],[14.5,0.3],[16,0.275],[17,0.265],[19.5,0.265],[22,0.24],[25,0.22],[30,0.195],[35,0.17],[37.3,0.16]];
const tbiHighFit = [[5,0.23],[7,0.24],[10,0.255],[11,0.25],[12,0.235],[13,0.24],[14.3,0.255],[15.5,0.245],[16.5,0.25],[20,0.245],[22,0.235],[25,0.225],[26.5,0.21],[28,0.215],[30,0.215],[40,0.213]];
const caLowFit = [[4.2,0.755],[6,0.72],[8,0.68],[10,0.645],[11,0.638],[13,0.635],[16,0.625],[18,0.632],[20,0.63],[22,0.628],[25,0.64],[27,0.655],[30,0.675],[35,0.7],[40,0.725]];
const caMidFit = [[4,0.62],[6,0.6],[8,0.57],[9,0.56],[10.5,0.52],[12,0.525],[12.5,0.525],[13.5,0.51],[15,0.5],[17,0.495],[19,0.48],[20,0.47],[22,0.455],[25,0.455],[30,0.455],[35,0.45],[40,0.445]];
const caHighFit = [[4.5,0.565],[7,0.545],[10,0.52],[12,0.49],[12.5,0.48],[13.5,0.495],[14.5,0.49],[16,0.475],[17,0.465],[18,0.465],[20,0.47],[22,0.48],[24,0.49],[26,0.505],[30,0.51],[35,0.515],[40,0.52]];
const sahLowFit = [[5.5,0.43],[7,0.425],[9,0.415],[10,0.445],[11,0.465],[12,0.46],[13,0.47],[14,0.47],[15,0.49],[17,0.5],[19,0.5],[20,0.505],[22,0.515],[25,0.53],[28,0.545],[30.8,0.56]];
const sahMidFit = [[5.8,0.455],[7,0.4],[8,0.35],[9,0.31],[9.6,0.295],[10,0.305],[11,0.33],[12,0.345],[13,0.37],[14,0.375],[16,0.375],[17,0.385],[19,0.38],[20,0.37],[22,0.345],[25,0.315],[28,0.28],[29.8,0.26]];
const sahHighFit = [[4.5,0.205],[6,0.19],[8,0.16],[9,0.148],[9.5,0.15],[10,0.18],[10.5,0.21],[11,0.26],[12,0.29],[13,0.305],[14,0.31],[15,0.305],[16,0.33],[18,0.37],[20,0.41],[21,0.425],[22,0.46],[24,0.48],[26,0.505],[30,0.535],[35,0.585],[40,0.645]];
const ichLowFit = [[4,0.765],[6,0.71],[8,0.64],[9,0.6],[10,0.56],[10.7,0.555],[11.5,0.58],[12.3,0.605],[13,0.6],[14,0.615],[15,0.62],[16,0.625],[18,0.625],[20,0.635],[22,0.65],[25,0.69],[30,0.75],[35,0.8],[40,0.855]];
const ichMidFit = [[4.5,0.525],[6,0.515],[8,0.5],[9,0.505],[10,0.52],[11,0.51],[12,0.49],[12.5,0.488],[13.5,0.5],[15,0.5],[16,0.498],[17,0.49],[18,0.478],[20,0.478],[21,0.48],[22,0.5],[24,0.53],[26,0.555],[28,0.58],[31,0.61]];
const ichHighFit = [[4,0.46],[6,0.46],[8,0.46],[9.3,0.462],[10,0.48],[11,0.51],[12,0.515],[13,0.515],[14,0.52],[15,0.505],[16,0.51],[17.5,0.52],[19,0.545],[20,0.56],[22,0.59],[24,0.615],[26,0.63],[30,0.655],[33,0.675],[36.8,0.7]];

// ---------- LAYOUT / STYLE ----------
const W = 1283, H = 1088;
const XMIN = -2.2, XMAX = 42.2, YMIN = -0.053, YMAX = 1.055;
const ptsList = [
  tbiLowPts.concat(tbiLowCore), tbiMidPts.concat(tbiMidCore), tbiHighPts.concat(tbiHighCore),
  caLowPts.concat(caLowCore), caMidPts.concat(caMidCore), caHighPts.concat(caHighCore),
  sahLowPts.concat(sahLowCore), sahMidPts.concat(sahMidCore), sahHighPts.concat(sahHighCore),
  ichLowPts.concat(ichLowCore), ichMidPts.concat(ichMidCore), ichHighPts.concat(ichHighCore)
];
const fitList = [tbiLowFit, tbiMidFit, tbiHighFit, caLowFit, caMidFit, caHighFit, sahLowFit, sahMidFit, sahHighFit, ichLowFit, ichMidFit, ichHighFit];
// pixel positions of x=0, x=40, y=1.0, y=0 for each panel
const geom = [
  [110, 442, 49, 221], [517, 848, 52, 223], [925, 1256, 49, 221],
  [115, 447, 320, 490], [519, 847, 320, 490], [928, 1257, 320, 489],
  [113, 448, 595, 767], [520, 850, 588, 762], [927, 1257, 587, 756],
  [114, 447, 863, 1037], [521, 850, 863, 1032], [927, 1258, 857, 1028]
];
// title right edge / vertical centre in pixels
const titlePos = [
  [441, 39], [845, 40], [1252, 39],
  [438, 311], [845, 309], [1253, 310],
  [439, 584], [848, 577], [1253, 577],
  [443, 852], [848, 853], [1257, 845]
];
const symbols = ["triangle-up-open", "circle-open", "diamond-open", "square-open"];
const symSize = [5, 6, 7, 6];
const tickFonts = [
  "Liberation Sans", "Liberation Sans", "Liberation Sans",
  "DejaVu Sans", "DejaVu Sans", "DejaVu Sans",
  "Liberation Sans", "DejaVu Sans", "DejaVu Sans",
  "Liberation Sans", "DejaVu Sans", "Liberation Sans"
];
const ptColor = "rgba(243,163,118,0.85)";
const lineColor = "#3d4b9f";

const traces = [];
const layout = {
  width: W, height: H,
  margin: {l: 0, r: 0, t: 0, b: 0},
  paper_bgcolor: "#ffffff", plot_bgcolor: "#ffffff",
  showlegend: false,
  annotations: [], shapes: []
};

for (let i = 0; i < 12; i++) {
  const [x0, x40, y1, y0] = geom[i];
  const ppx = (x40 - x0) / 40, ppy = (y0 - y1);
  const left = x0 + XMIN * ppx, right = x0 + XMAX * ppx;
  const top = y0 - YMAX * ppy, bottom = y0 - YMIN * ppy;
  const sfx = i === 0 ? "" : String(i + 1);
  const row = Math.floor(i / 3);
  const tf = tickFonts[i];
  const tsize = tf === "DejaVu Sans" ? 17 : 16;
  layout["xaxis" + sfx] = {
    domain: [left / W, right / W], anchor: "y" + sfx,
    range: [XMIN, XMAX], tickvals: xTickVals, ticktext: xTickText,
    showgrid: true, gridcolor: "#d6d6d6", gridwidth: 1, zeroline: false,
    showline: true, linecolor: "#9a9a9a", linewidth: 1.2, ticks: "",
    ticklabelstandoff: -4,
    tickfont: {family: tf, size: tsize, color: "#1a1a1a"}, fixedrange: true
  };
  layout["yaxis" + sfx] = {
    domain: [1 - bottom / H, 1 - top / H], anchor: "x" + sfx,
    range: [YMIN, YMAX], tickvals: yTickVals, ticktext: yTickText,
    showgrid: true, gridcolor: "#d6d6d6", gridwidth: 1, zeroline: false,
    showline: true, linecolor: "#9a9a9a", linewidth: 1.2, ticks: "",
    tickfont: {family: tf, size: tsize, color: "#1a1a1a"}, fixedrange: true
  };
  const pts = ptsList[i];
  traces.push({
    type: "scatter", mode: "markers",
    x: pts.map(p => p[0]), y: pts.map(p => p[1]),
    xaxis: "x" + sfx, yaxis: "y" + sfx,
    marker: {symbol: symbols[row], size: symSize[row], color: ptColor, line: {width: 1, color: ptColor}},
    hoverinfo: "skip"
  });
  const fit = fitList[i];
  traces.push({
    type: "scatter", mode: "lines",
    x: fit.map(p => p[0]), y: fit.map(p => p[1]),
    xaxis: "x" + sfx, yaxis: "y" + sfx,
    line: {color: lineColor, width: 1.6},
    hoverinfo: "skip"
  });
  // panel title
  layout.annotations.push({
    xref: "paper", yref: "paper", x: titlePos[i][0] / W, y: 1 - titlePos[i][1] / H,
    xanchor: "right", yanchor: "middle", showarrow: false,
    text: "<b>" + panelTitles[i] + "</b>",
    font: {family: "Liberation Sans", size: 21, color: "#111"}
  });
  // x-axis title
  layout.annotations.push({
    xref: "paper", yref: "paper", x: (x0 + 20 * ppx) / W, y: 1 - Math.min(y0 + 45, 1077) / H,
    xanchor: "center", yanchor: "middle", showarrow: false,
    text: xAxisTitle, font: {family: "Liberation Sans", size: 17, color: "#1a1a1a"}
  });
  // y-axis title (left column only)
  if (i % 3 === 0) {
    layout.annotations.push({
      xref: "paper", yref: "paper", x: 41 / W, y: 1 - ((y0 + y1) / 2 - 2) / H,
      xanchor: "center", yanchor: "middle", showarrow: false, textangle: -90,
      text: yAxisTitle, font: {family: "Liberation Sans", size: 17, color: "#1a1a1a"}
    });
  }
}

// rounded outer frame
const fx = v => v / W, fy = v => 1 - v / H;
layout.shapes.push({
  type: "path", xref: "paper", yref: "paper",
  path: "M " + fx(8) + "," + fy(1095) + " L " + fx(8) + "," + fy(26) +
        " Q " + fx(8) + "," + fy(13) + " " + fx(21) + "," + fy(13) +
        " L " + fx(1290) + "," + fy(13),
  line: {color: "#6f6f6f", width: 1.5}
});

Plotly.newPlot("chart", traces, layout, {displayModeBar: false, staticPlot: true});
</script>
</body>
</html>
